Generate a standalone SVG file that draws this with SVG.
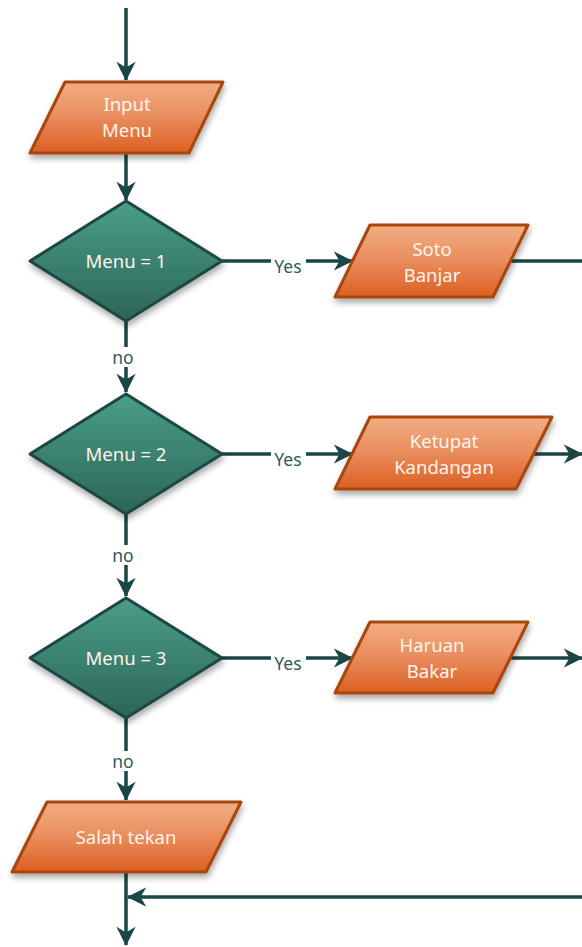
<svg xmlns="http://www.w3.org/2000/svg" width="582" height="947" viewBox="0 0 582 947">
<style>
.io{fill:url(#og);stroke:#A8460F;stroke-width:3;stroke-linejoin:round;filter:url(#sh)}
.dec{fill:url(#gg);stroke:#1D4744;stroke-width:3;stroke-linejoin:round;filter:url(#sh)}
.t{font-family:"Noto Sans","Open Sans",sans-serif;font-size:18.5px;fill:#FFF4EC;text-anchor:middle}
.lbl{font-family:"Noto Sans","Open Sans",sans-serif;font-size:17.5px;fill:#2B5C5C;text-anchor:middle}
.c{fill:none;stroke:#1A4646;stroke-width:3.5}
.ca{fill:none;stroke:#1A4646;stroke-width:3.5;marker-end:url(#ah)}
</style>
<defs>
<linearGradient id="og" x1="0" y1="0" x2="0" y2="1">
<stop offset="0" stop-color="#F3AD83"/><stop offset="0.45" stop-color="#EA9061"/><stop offset="1" stop-color="#DC5F22"/>
</linearGradient>
<linearGradient id="gg" x1="0" y1="0" x2="0" y2="1">
<stop offset="0" stop-color="#4A9E89"/><stop offset="1" stop-color="#2C6556"/>
</linearGradient>
<filter id="sh" x="-20%" y="-20%" width="140%" height="150%">
<feDropShadow dx="1" dy="4" stdDeviation="3" flood-color="#000" flood-opacity="0.35"/>
</filter>
<marker id="ah" viewBox="0 0 10 10" refX="9.5" refY="5" markerWidth="5.5" markerHeight="5.5" orient="auto" markerUnits="strokeWidth">
<path d="M0,0 L10,5 L0,10 L3,5 Z" fill="#1A4646"/>
</marker>
</defs>
<g id="connectors">
<path class="ca" d="M126,8 V80"/>
<path class="ca" d="M126,154 V200"/>
<path class="ca" d="M222,261 H352"/>
<path class="c" d="M510,261 H582"/>
<path class="ca" d="M126,321 V392"/>
<path class="ca" d="M222,454 H352"/>
<path class="ca" d="M534,454 H582"/>
<path class="ca" d="M126,514 V596"/>
<path class="ca" d="M222,658 H352"/>
<path class="ca" d="M510,658 H582"/>
<path class="ca" d="M126,718 V800"/>
<path class="ca" d="M126,873 V945"/>
<path class="ca" d="M582,897 H128"/>
<rect x="271" y="252" width="35" height="20" fill="#fff"/>
<rect x="271" y="445" width="35" height="20" fill="#fff"/>
<rect x="271" y="649" width="35" height="20" fill="#fff"/>
<rect x="111" y="347" width="28" height="20" fill="#fff"/>
<rect x="111" y="545" width="28" height="20" fill="#fff"/>
<rect x="111" y="751" width="28" height="20" fill="#fff"/>
<text class="lbl" x="288" y="273">Yes</text>
<text class="lbl" x="288" y="466">Yes</text>
<text class="lbl" x="288" y="670">Yes</text>
<text class="lbl" x="123" y="364">no</text>
<text class="lbl" x="123" y="562">no</text>
<text class="lbl" x="123" y="768">no</text>
</g>
<g id="input-menu">
<polygon class="io" points="65,82 223,82 189,153 30,153"/>
<text class="t" x="127" y="111">Input</text>
<text class="t" x="127" y="137">Menu</text>
</g>
<g id="menu1">
<polygon class="dec" points="126,201 222,261 126,321 30,261"/>
<text class="t" x="126" y="268">Menu = 1</text>
</g>
<g id="soto-banjar">
<polygon class="io" points="370,225 528,225 493,297 335,297"/>
<text class="t" x="432" y="256">Soto</text>
<text class="t" x="432" y="282">Banjar</text>
</g>
<g id="menu2">
<polygon class="dec" points="126,394 222,454 126,514 30,454"/>
<text class="t" x="126" y="461">Menu = 2</text>
</g>
<g id="ketupat-kandangan">
<polygon class="io" points="370,417 552,417 516,489 335,489"/>
<text class="t" x="444" y="448">Ketupat</text>
<text class="t" x="444" y="474">Kandangan</text>
</g>
<g id="menu3">
<polygon class="dec" points="126,598 222,658 126,718 30,658"/>
<text class="t" x="126" y="665">Menu = 3</text>
</g>
<g id="haruan-bakar">
<polygon class="io" points="370,622 528,622 493,693 335,693"/>
<text class="t" x="432" y="652">Haruan</text>
<text class="t" x="432" y="678">Bakar</text>
</g>
<g id="salah-tekan">
<polygon class="io" points="47,802 241,802 206,872 12,872"/>
<text class="t" x="126" y="844">Salah tekan</text>
</g>
</svg>
